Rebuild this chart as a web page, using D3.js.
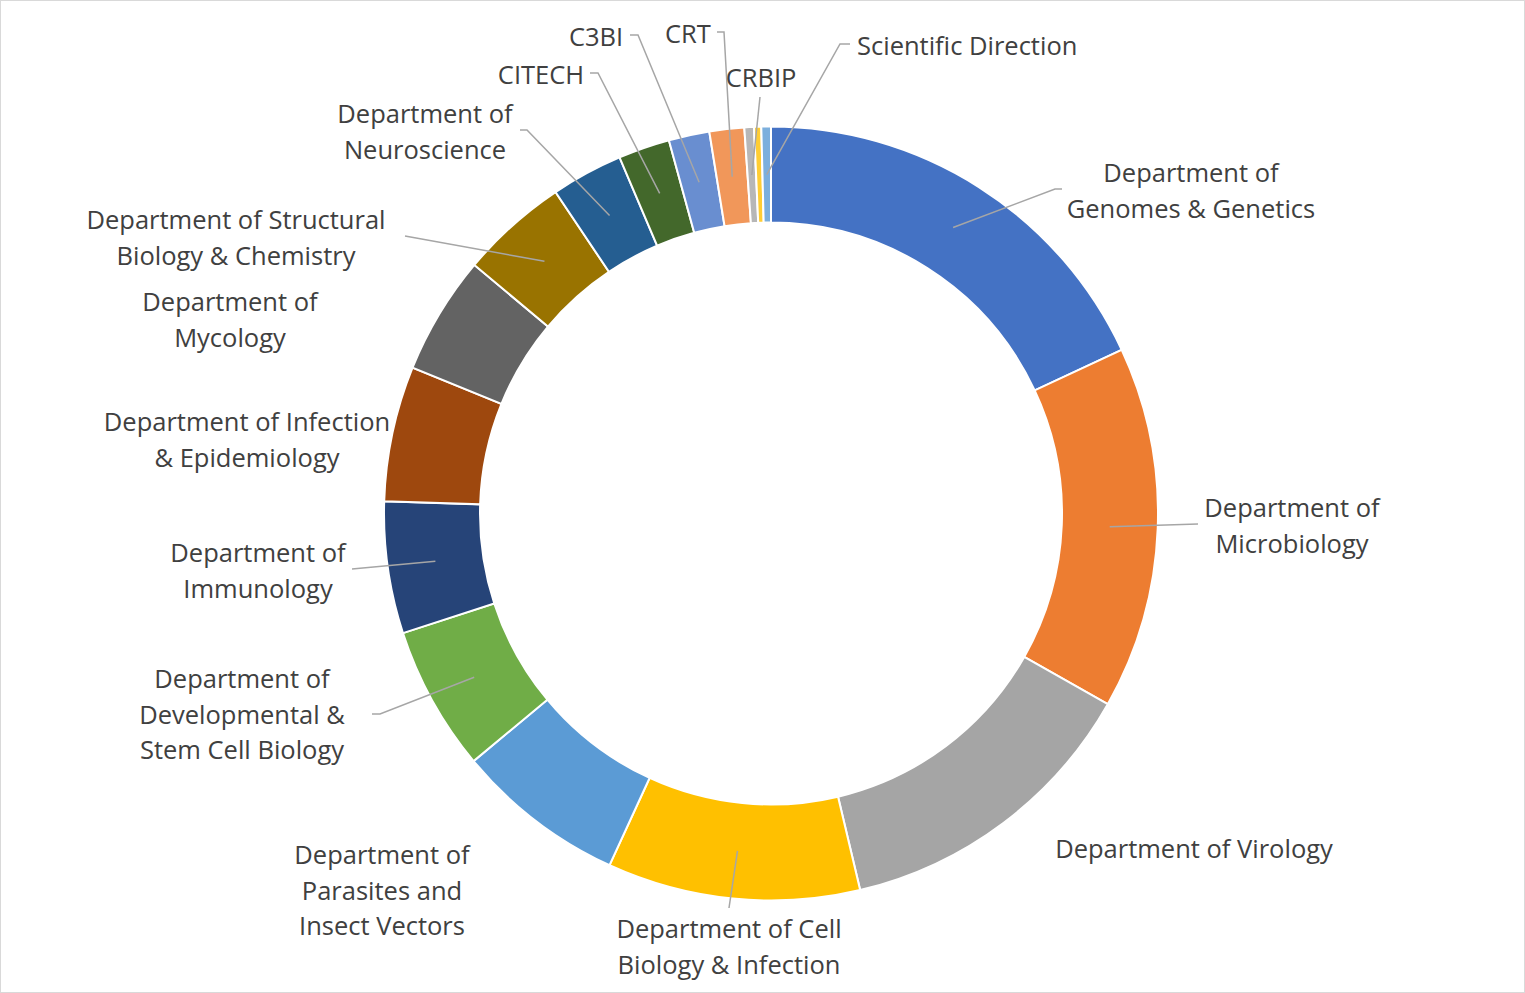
<!DOCTYPE html>
<html>
<head>
<meta charset="utf-8">
<script src="https://cdn.jsdelivr.net/npm/d3@7"></script>
<style>
  html, body { margin: 0; padding: 0; background: #fff; }
  .label { font-family: "Open Sans", sans-serif; font-size: 25.5px; fill: #404040; }
</style>
</head>
<body>
<div id="chart"></div>
<script>
// slice data, clockwise from 12 o'clock (share in %)
var departments = ["Department of Genomes & Genetics", "Department of Microbiology", "Department of Virology",
                   "Department of Cell Biology & Infection", "Department of Parasites and Insect Vectors",
                   "Department of Developmental & Stem Cell Biology", "Department of Immunology",
                   "Department of Infection & Epidemiology", "Department of Mycology",
                   "Department of Structural Biology & Chemistry", "Department of Neuroscience",
                   "CITECH", "C3BI", "CRT", "CRBIP", "Other", "Scientific Direction"];
var shares = [18.05, 15.15, 13.1, 10.55, 7.1, 6.05, 5.5, 5.65, 4.95, 4.5, 3.0, 2.15, 1.7, 1.45, 0.4, 0.3, 0.4];
var colors = ["#4472C4", "#ED7D31", "#A5A5A5", "#FFC000", "#5B9BD5", "#70AD47", "#264478", "#9E480E",
              "#636363", "#997300", "#255E91", "#43682B", "#698ED0", "#F1975A", "#B7B7B7", "#FFCD33", "#7CAFDD"];

// label text, as wrapped in the chart
var labelLines = [["Department of", "Genomes & Genetics"], ["Department of", "Microbiology"],
                  ["Department of Virology"], ["Department of Cell", "Biology & Infection"],
                  ["Department of", "Parasites and", "Insect Vectors"],
                  ["Department of", "Developmental &", "Stem Cell Biology"], ["Department of", "Immunology"],
                  ["Department of Infection", "& Epidemiology"], ["Department of", "Mycology"],
                  ["Department of Structural", "Biology & Chemistry"], ["Department of", "Neuroscience"],
                  ["CITECH"], ["C3BI"], ["CRT"], ["CRBIP"], [], ["Scientific Direction"]];

// label placement (x, y of first line, anchor) and leader elbow points
var labelLayout = [
  {x: 1191, y: 172, anchor: "middle", leader: [[1055, 189], [1062, 189]]},
  {x: 1292, y: 507, anchor: "middle", leader: [[1198, 524]]},
  {x: 1194, y: 848, anchor: "middle", leader: null},
  {x: 729, y: 928, anchor: "middle", leader: [[729, 908]]},
  {x: 382, y: 854, anchor: "middle", leader: null},
  {x: 242, y: 678, anchor: "middle", leader: [[380, 714], [372, 714]]},
  {x: 258, y: 552, anchor: "middle", leader: [[352, 569]]},
  {x: 247, y: 421, anchor: "middle", leader: null},
  {x: 230, y: 301, anchor: "middle", leader: null},
  {x: 236, y: 219, anchor: "middle", leader: [[405, 236]]},
  {x: 425, y: 113, anchor: "middle", leader: [[527, 130], [520, 130]]},
  {x: 541, y: 74, anchor: "middle", leader: [[598, 73], [590, 73]]},
  {x: 596, y: 36, anchor: "middle", leader: [[638, 35], [630, 35]]},
  {x: 688, y: 33, anchor: "middle", leader: [[724, 32], [717, 32]]},
  {x: 761, y: 77, anchor: "middle", leader: [[760, 97]]},
  {x: 0, y: 0, anchor: "middle", leader: null},
  {x: 857, y: 45, anchor: "start", leader: [[840, 44], [850, 44]]}
];

var width = 1525, height = 993;
var cx = 771, cy = 513.5;
var radiusOuter = 387, radiusInner = 291;
var lineHeight = 35.5;

var svg = d3.select("#chart")
            .append("svg")
            .attr("width", width)
            .attr("height", height);

svg.append("rect")
   .attr("x", 0.5).attr("y", 0.5)
   .attr("width", width - 1).attr("height", height - 1)
   .attr("fill", "#fff")
   .attr("stroke", "#D9D9D9");

var rows = departments.map((d, i) => ({name: d, value: shares[i], color: colors[i],
                                       lines: labelLines[i], layout: labelLayout[i]}));

var pie = d3.pie()
            .value(d => d.value)
            .sort(null);

var arc = d3.arc()
            .innerRadius(radiusInner)
            .outerRadius(radiusOuter);

var arcs = pie(rows);

var g = svg.append("g")
           .attr("transform", "translate(" + cx + "," + cy + ")");

g.selectAll("path.slice")
 .data(arcs)
 .enter()
 .append("path")
 .attr("class", "slice")
 .attr("d", arc)
 .attr("fill", d => d.data.color)
 .attr("stroke", "#fff")
 .attr("stroke-width", 2);

// leader lines from ring centroid to label
var line = d3.line();
svg.selectAll("path.leader")
   .data(arcs.filter(d => d.data.layout.leader))
   .enter()
   .append("path")
   .attr("class", "leader")
   .attr("d", d => {
       var c = arc.centroid(d);
       var pts = [[cx + c[0], cy + c[1]]].concat(d.data.layout.leader);
       return line(pts);
   })
   .attr("fill", "none")
   .attr("stroke", "#A6A6A6")
   .attr("stroke-width", 1.5);

var labels = svg.selectAll("text.label")
   .data(rows.filter(d => d.lines.length > 0))
   .enter()
   .append("text")
   .attr("class", "label")
   .attr("text-anchor", d => d.layout.anchor)
   .attr("dominant-baseline", "central");

labels.selectAll("tspan")
      .data(d => d.lines.map((t, k) => ({t: t, k: k, layout: d.layout})))
      .enter()
      .append("tspan")
      .attr("x", d => d.layout.x)
      .attr("y", d => d.layout.y + d.k * lineHeight)
      .text(d => d.t);
</script>
</body>
</html>
